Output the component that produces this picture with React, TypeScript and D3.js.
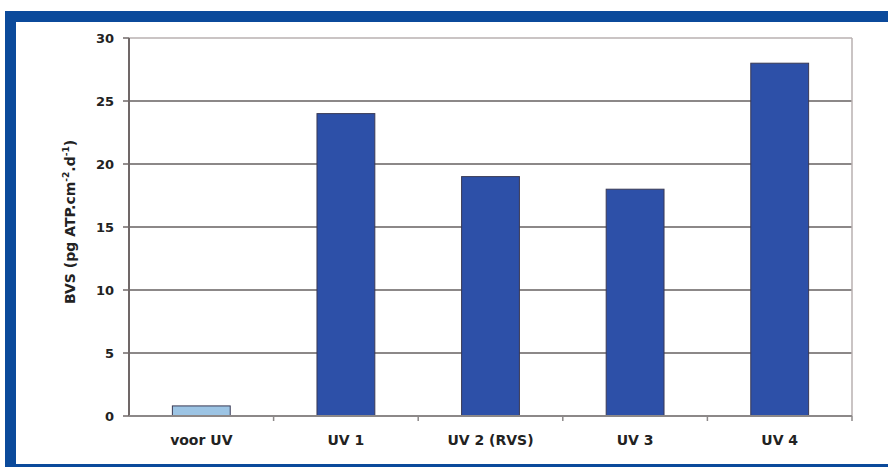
import React from "react";
import * as d3 from "d3";

const categories = ["voor UV", "UV 1", "UV 2 (RVS)", "UV 3", "UV 4"];
const values = [0.8, 24, 19, 18, 28];
const barColors = ["#9cc4e4", "#2d50a8", "#2d50a8", "#2d50a8", "#2d50a8"];
const yTicks = [0, 5, 10, 15, 20, 25, 30];

const W = 888;
const H = 467;
const left = 129;
const right = 852;
const top = 38;
const bottom = 416;

export default function App() {
  const x = d3.scaleBand<string>().domain(categories).range([left, right]).paddingInner(0).paddingOuter(0);
  const y = d3.scaleLinear().domain([0, 30]).range([bottom, top]);
  const bw = x.bandwidth() / 2.5;
  const font = "'DejaVu Sans', Verdana, sans-serif";
  return (
    <svg width={W} height={H} style={{ position: "absolute", left: 0, top: 0 }} fontFamily={font}>
      <rect x={0} y={0} width={W} height={H} fill="#ffffff" />
      {/* frame */}
      <rect x={5} y={11} width={W - 5} height={11} fill="#0b4a9b" />
      <rect x={5} y={11} width={11} height={H - 11} fill="#0b4a9b" />
      <rect x={5} y={464} width={W - 5} height={3} fill="#0b4a9b" />
      {/* gridlines */}
      {yTicks.filter((t) => t > 0).map((t) => (
        <line key={t} x1={left} x2={right} y1={y(t)} y2={y(t)} stroke={t === 30 ? "#b8b0b0" : "#8c8888"} strokeWidth={t === 30 ? 1.5 : 2} />
      ))}
      <line x1={right} x2={right} y1={top} y2={bottom} stroke="#b8b0b0" strokeWidth={1.5} />
      {/* bars */}
      {categories.map((c, i) => (
        <rect
          key={c}
          x={(x(c) as number) + (x.bandwidth() - bw) / 2}
          y={y(values[i])}
          width={bw}
          height={bottom - y(values[i])}
          fill={barColors[i]}
          stroke="#3a3a55"
          strokeWidth={1}
        />
      ))}
      {/* axes */}
      <line x1={left} x2={left} y1={top} y2={bottom} stroke="#706868" strokeWidth={2} />
      <line x1={left} x2={right} y1={bottom} y2={bottom} stroke="#8c8888" strokeWidth={2} />
      {yTicks.map((t) => (
        <g key={t}>
          <line x1={left - 6} x2={left} y1={y(t)} y2={y(t)} stroke="#706868" strokeWidth={1.5} />
          <text x={left - 15} y={y(t)} dy="0.36em" textAnchor="end" fontSize={13} fontWeight="bold" fill="#222">
            {t}
          </text>
        </g>
      ))}
      {categories.slice(1).map((c) => (
        <line key={c} x1={x(c) as number} x2={x(c) as number} y1={bottom} y2={bottom + 5} stroke="#8c8888" strokeWidth={1.5} />
      ))}
      <line x1={right} x2={right} y1={bottom} y2={bottom + 5} stroke="#8c8888" strokeWidth={1.5} />
      {categories.map((c) => (
        <text key={c} x={(x(c) as number) + x.bandwidth() / 2} y={445} textAnchor="middle" fontSize={14} fontWeight="bold" fill="#222">
          {c}
        </text>
      ))}
      <text transform={`translate(75,222) rotate(-90)`} textAnchor="middle" fontSize={14} fontWeight="bold" fill="#222">
        BVS (pg ATP.cm
        <tspan dy={-6} fontSize={9}>-2</tspan>
        <tspan dy={6}>.d</tspan>
        <tspan dy={-6} fontSize={9}>-1</tspan>
        <tspan dy={6}>)</tspan>
      </text>
    </svg>
  );
}
